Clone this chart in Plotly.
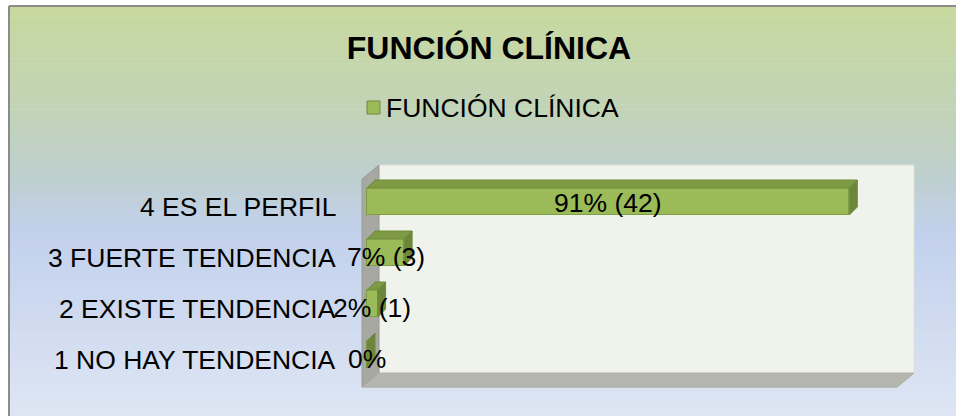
import plotly.graph_objects as go

# ---------------- data ----------------
categories = ["1 NO HAY TENDENCIA", "2 EXISTE TENDENCIA", "3 FUERTE TENDENCIA", "4 ES EL PERFIL"]
percent = [0, 2, 7, 91]
counts = [0, 1, 3, 42]
series_name = "FUNCIÓN CLÍNICA"
title_text = "FUNCIÓN CLÍNICA"

# ---------------- layout constants (pixels) ----------------
W, H = 956, 416
X0_PX = 367.0          # pixel of value 0
KX = 5.30              # pixels per percent
Y0_PX = 354.5          # pixel of first category centre
KY = 51.0              # pixels per category
FONT = "Liberation Sans, Arial, sans-serif"

x_range = [-X0_PX / KX, (W - X0_PX) / KX]
y_range = [(Y0_PX - H) / KY, Y0_PX / KY]

BAR_H = 27.0 / KY          # front face height (category units)
BDX, BDY = 8.0 / KX, 8.0 / KY      # bar depth
WDX, WDY = 17.0 / KX, 14.0 / KY    # wall depth
AXIS_MAX = 100
WALL_X = -5.0 / KX
FLOOR_Y = -0.64
TOP_Y = 3.44

fig = go.Figure()

# ---------- background gradient ----------
stops = [(0.0, (199, 217, 158)), (0.28, (193, 211, 186)), (0.42, (190, 207, 208)),
         (0.55, (194, 208, 236)), (1.0, (222, 230, 244))]


def grad(t):
    for (t0, c0), (t1, c1) in zip(stops[:-1], stops[1:]):
        if t <= t1:
            f = (t - t0) / (t1 - t0) if t1 > t0 else 0
            return tuple(int(round(a + (b - a) * f)) for a, b in zip(c0, c1))
    return stops[-1][1]


top_px, left_px = 7.0, 10.0
n = 80
shapes = []
for k in range(n):
    pa = top_px + (H - top_px) * k / n
    pb = top_px + (H - top_px) * (k + 1) / n + 0.6
    c = grad((k + 0.5) / n)
    shapes.append(dict(type="rect", xref="paper", yref="paper", layer="below",
                       x0=left_px / W, x1=1.0, y0=1 - pb / H, y1=1 - pa / H,
                       fillcolor="rgb(%d,%d,%d)" % c, line=dict(width=0)))
# chart-area border: only the top and left edges are inside the picture
shapes.append(dict(type="line", xref="paper", yref="paper", layer="below",
                   x0=(left_px - 1) / W, x1=1.0, y0=1 - (top_px - 1) / H, y1=1 - (top_px - 1) / H,
                   line=dict(color="#8c8c8c", width=2)))
shapes.append(dict(type="line", xref="paper", yref="paper", layer="below",
                   x0=(left_px - 1) / W, x1=(left_px - 1) / W, y0=0, y1=1 - (top_px - 1) / H,
                   line=dict(color="#8c8c8c", width=2)))


def path(pts):
    return "M " + " L ".join("%f,%f" % p for p in pts) + " Z"


# back wall
shapes.append(dict(type="path", xref="x", yref="y", layer="below",
                   path=path([(WALL_X + WDX, FLOOR_Y + WDY), (AXIS_MAX + WDX, FLOOR_Y + WDY),
                              (AXIS_MAX + WDX, TOP_Y + WDY), (WALL_X + WDX, TOP_Y + WDY)]),
                   fillcolor="#f0f3ec", line=dict(color="#dde2d6", width=1)))
# left wall
shapes.append(dict(type="path", xref="x", yref="y", layer="below",
                   path=path([(WALL_X, FLOOR_Y), (WALL_X, TOP_Y),
                              (WALL_X + WDX, TOP_Y + WDY), (WALL_X + WDX, FLOOR_Y + WDY)]),
                   fillcolor="#a6a8a1", line=dict(color="#9a9c95", width=1)))
# floor
shapes.append(dict(type="path", xref="x", yref="y", layer="below",
                   path=path([(WALL_X, FLOOR_Y), (AXIS_MAX, FLOOR_Y),
                              (AXIS_MAX + WDX, FLOOR_Y + WDY), (WALL_X + WDX, FLOOR_Y + WDY)]),
                   fillcolor="#b5b7af", line=dict(color="#aaaca4", width=1)))

# legend (drawn manually to match the tight symbol/text spacing)
shapes.append(dict(type="rect", xref="paper", yref="paper", layer="above",
                   x0=367 / W, x1=380 / W, y0=1 - 114 / H, y1=1 - 101 / H,
                   fillcolor="#9bbb59", line=dict(color="#71893f", width=1)))

# ---------- bars ----------
idx = list(range(len(categories)))
fig.add_trace(go.Bar(
    x=percent, y=idx, orientation="h", width=BAR_H, name=series_name,
    marker=dict(color="#9bbb59", line=dict(color="#7f9f46", width=1)),
    hoverinfo="skip", showlegend=False))

h = BAR_H / 2
for i, v in zip(idx, percent):
    top = [(0, i + h), (v, i + h), (v + BDX, i + h + BDY), (BDX, i + h + BDY), (0, i + h)]
    side = [(v, i - h), (v, i + h), (v + BDX, i + h + BDY), (v + BDX, i - h + BDY), (v, i - h)]
    for pts, col in ((top, "#7e9a45"), (side, "#6c8739")):
        fig.add_trace(go.Scatter(x=[p[0] for p in pts], y=[p[1] for p in pts],
                                 mode="lines", fill="toself", fillcolor=col,
                                 line=dict(color="#6f8a3c", width=1),
                                 hoverinfo="skip", showlegend=False))

# ---------- labels ----------
annotations = []
for i, (cat, v, c) in enumerate(zip(categories, percent, counts)):
    annotations.append(dict(xref="x", yref="y", x=(338 - X0_PX) / KX, y=i, yshift=-5,
                            text=cat, showarrow=False, xanchor="right",
                            font=dict(family=FONT, size=26.5, color="#000000")))
    txt = "%d%%" % v if c == 0 else "%d%% (%d)" % (v, c)
    annotations.append(dict(xref="x", yref="y", x=v / 2, y=i, yshift=-4 if v < 50 else -1,
                            text=txt, showarrow=False, xanchor="center",
                            font=dict(family=FONT, size=26.5, color="#000000")))

annotations.append(dict(xref="paper", yref="paper", x=384 / W, y=1 - 108 / H,
                        xanchor="left", yanchor="middle", showarrow=False,
                        text=series_name,
                        font=dict(family=FONT, size=26.5, color="#000000")))

fig.update_layout(
    width=W, height=H,
    margin=dict(l=0, r=0, t=0, b=0),
    paper_bgcolor="#ffffff", plot_bgcolor="rgba(0,0,0,0)",
    xaxis=dict(range=x_range, visible=False, fixedrange=True),
    yaxis=dict(range=y_range, visible=False, fixedrange=True),
    title=dict(text="<b>%s</b>" % title_text, x=489 / W, xanchor="center",
               y=1 - 48 / H, yanchor="middle", yref="paper",
               font=dict(family=FONT, size=32, color="#000000")),
    shapes=shapes, annotations=annotations,
    showlegend=False, bargap=0,
)

fig.write_html("out.html", config={"displayModeBar": False},
               post_script=("document.documentElement.style.overflow='hidden';"
                            "document.body.style.margin='0';"
                            "document.body.style.overflow='hidden';"))
